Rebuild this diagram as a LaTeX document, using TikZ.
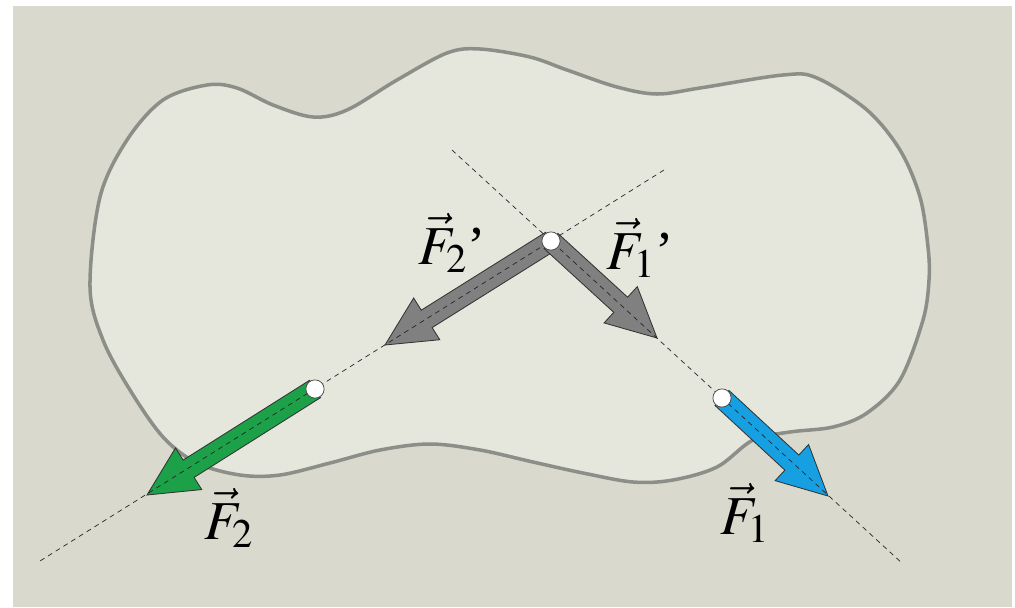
\documentclass[tikz,border=0pt]{standalone}
\usepackage{mathptmx}
\usepackage{fontspec}
\setmainfont{Liberation Serif}
\usetikzlibrary{calc}
\definecolor{bgC}{RGB}{217,217,206}
\definecolor{bodyC}{RGB}{229,231,221}
\definecolor{rimC}{RGB}{140,142,136}
\definecolor{forceGray}{RGB}{128,128,128}
\definecolor{forceGreen}{RGB}{28,160,72}
\definecolor{forceBlue}{RGB}{22,160,226}
\tikzset{
  body/.style={draw=rimC, line width=2.5pt, fill=bodyC},
  axisline/.style={black!85, line width=0.5pt, dash pattern=on 3.5pt off 3pt},
  pivot/.style={circle, draw=black!75, fill=white, line width=0.5pt,
                minimum size=13pt, inner sep=0pt},
  flabel/.style={font=\fontsize{39}{41}\selectfont, inner sep=0pt},
}
\newcommand{\shaftw}{7.3pt}
\newcommand{\headw}{17.5pt}
\newcommand{\headl}{35pt}
% fat force arrow from #1 to #2, filled with #3
\newcommand{\forcearrow}[3]{%
  \coordinate (#2-base) at ($(#2.center)!\headl!(#1.center)$);
  \filldraw[fill=#3, draw=black!80, line width=0.6pt, line join=miter]
    ($(#1.center)!\shaftw!90:(#2.center)$) -- ($(#2-base)!\shaftw!90:(#2.center)$)
    -- ($(#2-base)!\headw!90:(#2.center)$) -- (#2.center)
    -- ($(#2-base)!\headw!-90:(#2.center)$) -- ($(#2-base)!\shaftw!-90:(#2.center)$)
    -- ($(#1.center)!\shaftw!-90:(#2.center)$) -- cycle;
}
\begin{document}
\begin{tikzpicture}[x=0.025cm, y=-0.025cm]
  \useasboundingbox (0,0) rectangle (1015,607);
  \fill[white] (0,0) rectangle (1015,607);
  \fill[bgC] (13,6) rectangle (1012,607);

  % the rigid body
  \draw[body] plot[smooth cycle, tension=0.55] coordinates {
    (90,287) (100,197) (127,140) (163,100) (207,85) (237,88) (273,105)
    (313,117) (347,110) (397,80) (447,53) (480,49) (530,57) (567,70)
    (617,87) (657,94) (700,88) (783,75) (817,78) (867,110) (900,150)
    (920,197) (928,247) (929,280) (923,320) (900,380) (867,413) (833,427)
    (790,432) (753,440) (717,467) (673,480) (633,482) (583,473) (533,462)
    (480,450) (430,444) (380,450) (330,463) (280,475) (240,475) (197,463)
    (163,437) (130,390) (103,340)};

  % points of application and tips
  \coordinate (O) at (551,241);
  \coordinate (pBlue) at (722,398);
  \coordinate (pGreen) at (315,389);
  \coordinate (tipF1p) at (657,338);
  \coordinate (tipF2p) at (385,345);
  \coordinate (tipF1) at (828,496);
  \coordinate (tipF2) at (147,495);
  \coordinate (axA-top) at (452,150);
  \coordinate (axA-bot) at (903,564);
  \coordinate (axB-top) at (664,170);
  \coordinate (axB-bot) at (40,561);

  % forces
  \forcearrow{O}{tipF2p}{forceGray}
  \forcearrow{O}{tipF1p}{forceGray}
  \forcearrow{pGreen}{tipF2}{forceGreen}
  \forcearrow{pBlue}{tipF1}{forceBlue}

  % lines of action
  \draw[axisline] (axA-top) -- (axA-bot);
  \draw[axisline] (axB-top) -- (axB-bot);

  \node[pivot] (nO) at (O) {};
  \node[pivot] (nGreen) at (pGreen) {};
  \node[pivot] (nBlue) at (pBlue) {};

  % labels
  \node[flabel] (lF2p) at (452,243) {$\vec{F}_{2}$\textquoteright};
  \node[flabel] (lF1p) at (640,248) {$\vec{F}_{1}$\textquoteright};
  \node[flabel] (lF2) at (229,518) {$\vec{F}_{2}$};
  \node[flabel] (lF1) at (745,513) {$\vec{F}_{1}$};
\end{tikzpicture}
\end{document}
